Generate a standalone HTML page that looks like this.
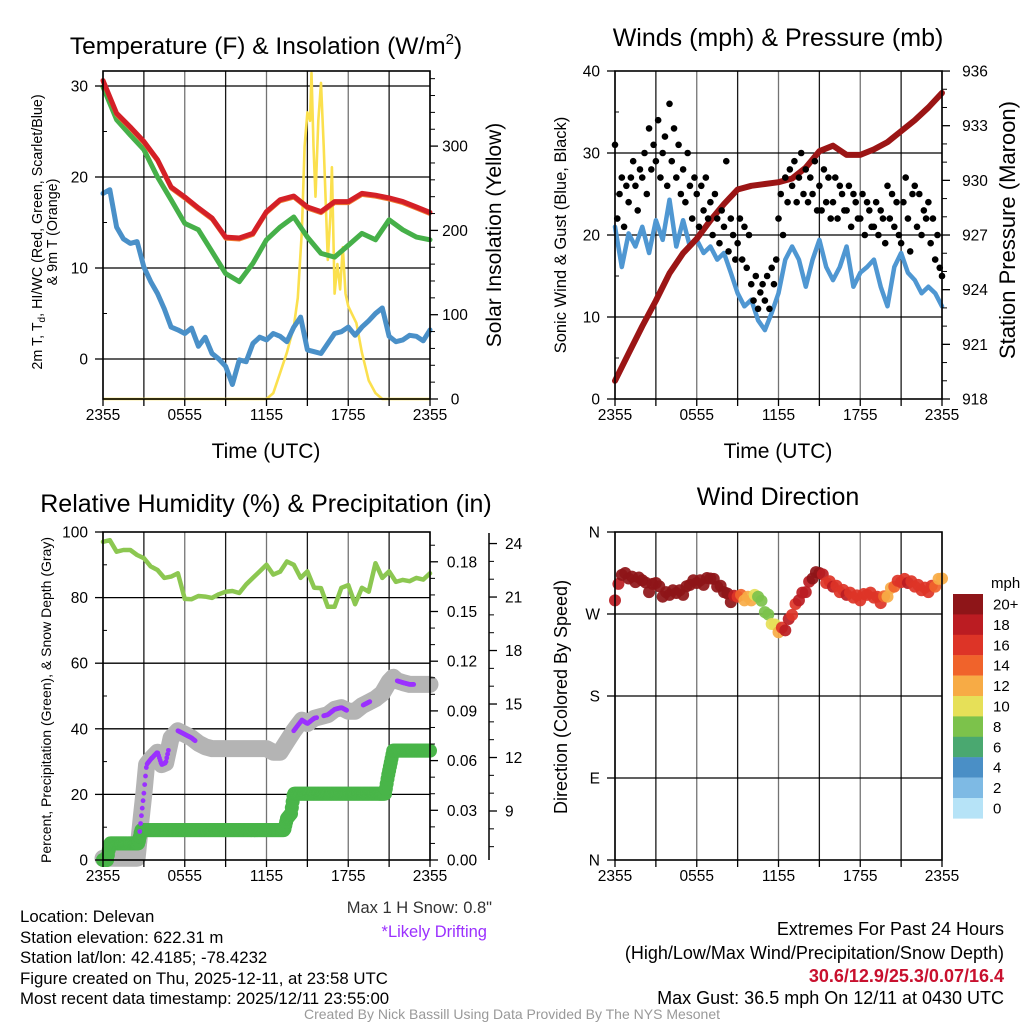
<!DOCTYPE html>
<html><head><meta charset="utf-8"><style>
html,body{margin:0;padding:0;background:#fff;}
svg{display:block;font-family:"Liberation Sans",Arial,sans-serif;}
</style></head><body>
<svg id="s" width="1024" height="1024" viewBox="0 0 1024 1024" xmlns="http://www.w3.org/2000/svg">
<g id="static">
<text x="266" y="54" font-size="24.5" text-anchor="middle">Temperature (F) &amp; Insolation (W/m<tspan font-size="15" dy="-10">2</tspan><tspan dy="10">)</tspan></text>
<text x="778" y="46" font-size="25" text-anchor="middle">Winds (mph) &amp; Pressure (mb)</text>
<text x="266" y="512" font-size="25" text-anchor="middle">Relative Humidity (%) &amp; Precipitation (in)</text>
<text x="778" y="505" font-size="25" text-anchor="middle">Wind Direction</text>
<text x="266" y="458" font-size="21" text-anchor="middle">Time (UTC)</text>
<text x="778" y="458" font-size="21" text-anchor="middle">Time (UTC)</text>
<text transform="translate(42,232) rotate(-90)" font-size="14.3" text-anchor="middle">2m T, T<tspan font-size="10" dy="3">d</tspan><tspan dy="-3">, HI/WC (Red, Green, Scarlet/Blue)</tspan></text>
<text transform="translate(57,232) rotate(-90)" font-size="14.3" text-anchor="middle">&amp; 9m T (Orange)</text>
<text transform="translate(501,235) rotate(-90)" font-size="21" text-anchor="middle">Solar Insolation (Yellow)</text>
<text transform="translate(566,235) rotate(-90)" font-size="16.5" text-anchor="middle">Sonic Wind &amp; Gust (Blue, Black)</text>
<text transform="translate(1015,230) rotate(-90)" font-size="22" text-anchor="middle">Station Pressure (Maroon)</text>
<text transform="translate(51,700) rotate(-90)" font-size="14" text-anchor="middle">Percent, Precipitation (Green), &amp; Snow Depth (Gray)</text>
<text transform="translate(567,697) rotate(-90)" font-size="18" text-anchor="middle">Direction (Colored By Speed)</text>
<text x="492" y="913" font-size="16.5" fill="#333" text-anchor="end">Max 1 H Snow: 0.8"</text>
<text x="487" y="937" font-size="16.5" fill="#9b30ff" text-anchor="end">*Likely Drifting</text>
<g font-size="16.8">
<text x="20" y="922">Location: Delevan</text>
<text x="20" y="943">Station elevation: 622.31 m</text>
<text x="20" y="963">Station lat/lon: 42.4185; -78.4232</text>
<text x="20" y="984">Figure created on Thu, 2025-12-11, at 23:58 UTC</text>
<text x="20" y="1004">Most recent data timestamp: 2025/12/11 23:55:00</text>
</g>
<g font-size="18" text-anchor="end">
<text x="1004" y="935">Extremes For Past 24 Hours</text>
<text x="1004" y="959">(High/Low/Max Wind/Precipitation/Snow Depth)</text>
<text x="1004" y="982" fill="#c8102e" font-weight="bold">30.6/12.9/25.3/0.07/16.4</text>
<text x="1004" y="1004">Max Gust: 36.5 mph On 12/11 at 0430 UTC</text>
</g>
<text x="512" y="1019" font-size="14" fill="#999" text-anchor="middle">Created By Nick Bassill Using Data Provided By The NYS Mesonet</text>
</g>
</svg>
<script>
// ---- data ----
const xTickLabels = ["2355","0555","1155","1755","2355"];
const tempVals = [30.6,27.0,25.5,23.9,21.9,18.9,17.8,16.6,15.5,13.4,13.3,13.8,16.2,17.5,17.9,16.7,16.2,17.3,17.3,18.2,18.0,17.7,17.3,16.7,16.1];
const hiwcVals = [29.9,26.3,24.6,23.0,20.0,17.5,14.9,14.2,11.8,9.4,8.5,10.5,13.1,14.5,15.6,13.4,11.6,11.2,12.5,13.8,13.1,15.3,14.2,13.4,13.1];
const dewVals = [18.2,18.6,14.5,13.2,12.7,12.9,10.1,8.5,7.2,5.5,3.5,3.2,2.8,3.4,1.4,2.4,0.6,0.0,-0.8,-2.8,-0.1,-0.3,1.7,2.4,2.1,2.8,2.5,1.9,3.5,4.6,1.0,0.8,0.6,1.7,2.8,3.0,3.5,2.6,3.5,4.2,5.0,5.6,2.5,1.9,2.1,2.6,2.5,2.0,3.2];
const solarHours = [0,12,12.5,13,13.5,14,14.3,14.6,14.8,15,15.2,15.3,15.45,15.6,15.8,16,16.2,16.5,16.7,16.8,17,17.2,17.4,17.6,17.8,18,18.3,18.6,19,19.5,20,20.5,24];
const solarVals = [0,0,7,31,55,86,120,200,300,340,330,387,300,240,330,375,300,165,220,275,125,160,130,180,125,110,100,90,55,22,7,0,0];
const tempTicks = [0,10,20,30];
const solarTicks = [0,100,200,300];

const windVals = [21.0,16.1,20.2,18.6,21.0,17.8,21.8,19.4,24.3,18.6,21.8,18.6,19.4,17.8,18.6,17.0,17.8,15.4,12.9,11.3,12.1,9.6,8.4,10.5,12.9,17.0,18.6,17.0,13.7,17.0,19.4,16.1,14.5,16.1,18.6,13.7,15.4,16.1,17.0,13.7,11.3,16.1,17.8,15.4,14.5,12.9,13.7,12.9,11.3];
const gustVals = [31,22,25,27,21,26, 24,27,29,26,23,28, 27,30,25,33,28,31, 29,34,27,30,32,26, 36,29,33,27,31,25, 28,24,30,26,22,27, 25,21,26,23,27,22, 24,20,25,22,19,23, 21,29,18,22,20,17, 19,22,17,21,16,20, 14,12,15,11,13,14, 12,15,11,16,14,17, 22,25,20,27,24,28, 26,29,24,27,30,25, 28,24,27,25,29,23, 26,23,28,24,27,22, 24,27,22,26,25,23, 23,26,21,25,24,22, 22,25,20,24,23,21, 21,24,20,23,22,19, 26,22,25,21,24,20, 19,24,27,22,18,25, 26,21,25,20,23,22, 24,19,22,17,20,16, 15];
const pressVals = [919.0,920.5,922.0,923.4,924.9,926.0,926.8,927.8,928.7,929.5,929.7,929.8,929.9,930.1,930.7,931.6,931.9,931.4,931.4,931.7,932.1,932.7,933.3,934.0,934.8];
const windTicks = [0,10,20,30,40];
const pressTicks = [918,921,924,927,930,933,936];

const rhVals = [97,97.5,94,94.5,94.5,93,92,89.5,88.4,86,86.4,87.4,79.6,79.5,80.5,80.3,79.9,81,81.8,82,81.4,84,86,88,90,87,87.9,91,90,86,88,83,82.9,77.2,77.2,83,83.8,78,83,81.8,90.5,86,88,84.8,85.4,85,86,85.5,87.4];
const snowHours = [0,0.5,1,1.5,2,2.5,2.8,3.0,3.2,3.5,4,4.3,4.6,5,5.5,6,6.5,7,7.5,8,9,10,11,12,12.5,13,13.5,14,14.3,14.6,15,15.5,16,16.5,17,17.5,18,18.5,19,19.5,20,20.5,21,21.3,21.6,22,22.5,23,24];
const snowVals = [6.35,6.35,6.35,6.35,6.35,6.35,8.6,10,11.6,11.9,12.3,11.6,11.7,13.1,13.5,13.3,13.1,12.8,12.6,12.5,12.5,12.5,12.5,12.5,12.3,12.3,12.9,13.5,13.8,14.1,13.9,14.2,14.3,14.4,14.7,14.8,14.6,14.6,14.9,15.1,15.3,15.6,16.25,16.5,16.3,16.2,16.1,16.1,16.1];
const driftStart = [2.7,5.5,14.0,16.2,19.1,21.6];
const driftEnd = [4.8,6.8,15.7,17.9,19.6,22.8];
const precipHours = [0,0.3,0.5,2.6,2.8,13.3,13.5,13.8,14.0,20.7,20.9,21.1,21.3,24];
const precipVals = [0,0,0.01,0.01,0.018,0.018,0.025,0.028,0.040,0.040,0.05,0.058,0.066,0.066];
const rhTicks = [0,20,40,60,80,100];
const precipTicks = ["0.00","0.03","0.06","0.09","0.12","0.15","0.18"];
const snowTicks = [9,12,15,18,21,24];

const dirVals = [285,313,309,305,307,294,304,289,291,293,291,302,304,302,309,300,294,283,289,285,285,289,272,259,250,252,269,285,294,309,315,304,300,294,291,288,285,291,288,282,289,300,305,304,300,296,294,300,309];
const dirSpeeds = [19,20,21,21,21,20,21,20,22,21,21,21,21,20,21,21,21,20,17,13,12,9,8,10,13,19,17,18,18,20,21,17,18,17,18,17,17,16,17,16,12,15,17,18,16,16,17,15,12];
const dirTickLabels = ["N","E","S","W","N"];
const cbLabels = ["20+","18","16","14","12","10","8","6","4","2","0"];
const cbColors = ["#8e1518","#bb1c22","#dd3427","#f0632b","#f7ab45","#e6e058","#7cc24b","#4aa870","#4a8fc6","#7ebae4","#b6e3f7"];

// ---- helpers ----
const NS="http://www.w3.org/2000/svg";
const svg=document.getElementById('s');
function el(tag,attrs,parent){const e=document.createElementNS(NS,tag);for(const k in attrs)e.setAttribute(k,attrs[k]);(parent||svg).appendChild(e);return e;}
function grp(name){const g=el('g',{});


return g;}
function speedColor(s){const i=s>=20?0:Math.max(0,Math.min(10,10-Math.floor(s/2)));return cbColors[i];}

function makeX(x0,x1){return h=>x0+h*(x1-x0)/24;}
function pathFrom(xs,ys){return xs.map((x,i)=>(i?'L':'M')+x.toFixed(1)+' '+ys[i].toFixed(1)).join('');}
function interp(hs,vs,h){for(let i=1;i<hs.length;i++){if(h<=hs[i]){const t=(h-hs[i-1])/(hs[i]-hs[i-1]);return vs[i-1]+t*(vs[i]-vs[i-1]);}}return vs[vs.length-1];}

function frame(name,x0,x1,y0,y1,hGrid){
  const gg=grp(name);
  for(let k=0;k<=8;k++){const x=x0+k*(x1-x0)/8;
    const l=el('line',{x1:x,x2:x,y1:y0,y2:y1,stroke:'#000','stroke-width':1.3,'stroke-opacity':(k%2?0.9:0.55)},gg);
    
    }
  hGrid.forEach(y=>{const l=el('line',{x1:x0,x2:x1,y1:y,y2:y,stroke:'#000','stroke-width':1.3},gg);
    
    });
  return gg;
}
function box(x0,x1,y0,y1){const r=el('rect',{x:x0,y:y0,width:x1-x0,height:y1-y0,fill:'none',stroke:'#000','stroke-width':1.6});

}
function xAxis(x,y1){
  const g=grp('x-axis');
  for(let k=0;k<=8;k++){const xx=x(k*3);el('line',{x1:xx,x2:xx,y1:y1,y2:y1+7,stroke:'#000','stroke-width':1.3},g);}
  xTickLabels.forEach((t,i)=>{const tx=el('text',{x:x(i*6),y:y1+21,'font-size':15.5,'text-anchor':'middle'},g);tx.textContent=t;
    
    });
}
function leftTicks(x0,ticks,yf,labels,minor){
  const g=grp('left-y-axis');
  ticks.forEach((v,i)=>{const y=yf(v);el('line',{x1:x0-8,x2:x0,y1:y,y2:y,stroke:'#000','stroke-width':1.3},g);
    const t=el('text',{x:x0-15,y:y+5.5,'font-size':15.5,'text-anchor':'end'},g);t.textContent=labels?labels[i]:v;
    
    });
  (minor||[]).forEach(v=>{const y=yf(v);el('line',{x1:x0,x2:x0+4,y1:y,y2:y,stroke:'#000','stroke-width':1},g);});
}
function rightTicks(x1,ticks,yf,labels,minor,lx){
  const g=grp('right-y-axis');
  ticks.forEach((v,i)=>{const y=yf(v);el('line',{x1:x1,x2:x1+8,y1:y,y2:y,stroke:'#000','stroke-width':1.3},g);
    const t=el('text',{x:lx,y:y+5.5,'font-size':15.5,'text-anchor':'middle'},g);t.textContent=labels?labels[i]:v;
    
    });
  (minor||[]).forEach(v=>{const y=yf(v);el('line',{x1:x1,x2:x1+5,y1:y,y2:y,stroke:'#000','stroke-width':1},g);});
}

// ================= Panel 1: Temperature =================
(function(){
  const x0=103,x1=430,y0=71,y1=399;
  const x=makeX(x0,x1);
  const yT=v=>359-v*9.1, yS=v=>399-v*0.843;
  frame('temp-grid',x0,x1,y0,y1,tempTicks.map(yT));
  const g=grp('temp-series');
  const sp=el('path',{d:pathFrom(solarHours.map(x),solarVals.map(yS)),fill:'none',stroke:'#fbe04e','stroke-width':2.6,'stroke-linejoin':'round'},g);
  
  
  const dh=dewVals.map((v,i)=>x(i*0.5));
  const dp=el('path',{d:pathFrom(dh,dewVals.map(yT)),fill:'none',stroke:'#4a90c8','stroke-width':5,'stroke-linejoin':'round','stroke-linecap':'round'},g);
  
  
  const hh=hiwcVals.map((v,i)=>x(i));
  const hp=el('path',{d:pathFrom(hh,hiwcVals.map(yT)),fill:'none',stroke:'#46b049','stroke-width':5,'stroke-linejoin':'round','stroke-linecap':'round'},g);
  
  
  const th=tempVals.map((v,i)=>x(i));
  const op=el('path',{d:pathFrom(th,tempVals.map(v=>yT(v)+1.5)),fill:'none',stroke:'#f07a30','stroke-width':4,'stroke-linejoin':'round'},g);
  
  
  const tp=el('path',{d:pathFrom(th,tempVals.map(yT)),fill:'none',stroke:'#d42027','stroke-width':5,'stroke-linejoin':'round','stroke-linecap':'round'},g);
  
  
  box(x0,x1,y0,y1);
  xAxis(x,y1);
  leftTicks(x0,tempTicks,yT,null,[5,15,25]);
  rightTicks(x1,solarTicks,yS,null,[20,40,60,80,120,140,160,180,220,240,260,280,320,340,360,380],455);
})();

// ================= Panel 2: Wind & Pressure =================
(function(){
  const x0=615,x1=942,y0=71,y1=399;
  const x=makeX(x0,x1);
  const yW=v=>399-v*8.2, yP=p=>399-(p-918)*18.22;
  frame('wind-grid',x0,x1,y0,y1,[10,20,30].map(yW));
  const g=grp('wind-series');
  const wp=el('path',{d:pathFrom(windVals.map((v,i)=>x(i*0.5)),windVals.map(yW)),fill:'none',stroke:'#4f97d2','stroke-width':4.5,'stroke-linejoin':'round','stroke-linecap':'round'},g);
  
  
  const pp=el('path',{d:pathFrom(pressVals.map((v,i)=>x(i)),pressVals.map(yP)),fill:'none',stroke:'#9b1515','stroke-width':6,'stroke-linejoin':'round','stroke-linecap':'round'},g);
  
  
  gustVals.forEach((v,i)=>{const c=el('circle',{cx:x(i/6),cy:yW(v),r:3.3,fill:'#000'},g);
    
    });
  box(x0,x1,y0,y1);
  xAxis(x,y1);
  leftTicks(x0,windTicks,yW,null,[5,15,25,35]);
  rightTicks(x1,pressTicks,yP,null,[919,920,922,923,925,926,928,929,931,932,934,935],975);
})();

// ================= Panel 3: RH / Precip / Snow =================
(function(){
  const x0=103,x1=430,y0=532,y1=860;
  const x=makeX(x0,x1);
  const yR=v=>860-v*3.28, yPr=v=>860-v*1656.7, ySn=v=>811-(v-9)*17.83;
  frame('rh-grid',x0,x1,y0,y1,[20,40,60,80].map(yR));
  const g=grp('rh-series');
  const rp=el('path',{d:pathFrom(rhVals.map((v,i)=>x(i*0.5)),rhVals.map(yR)),fill:'none',stroke:'#8cc751','stroke-width':4.5,'stroke-linejoin':'round','stroke-linecap':'round'},g);
  
  
  const sp=el('path',{d:pathFrom(snowHours.map(x),snowVals.map(ySn)),fill:'none',stroke:'#b4b4b4','stroke-width':17,'stroke-linejoin':'round','stroke-linecap':'round'},g);
  
  
  for(let h=0;h<=24.001;h+=0.06){const v=interp(precipHours,precipVals,h);
    const c=el('circle',{cx:x(h),cy:yPr(v),r:7,fill:'#49b549'},g);
    
    }
  driftStart.forEach((s,k)=>{for(let h=s;h<=driftEnd[k];h+=0.06){const v=interp(snowHours,snowVals,h);
    const c=el('circle',{cx:x(h),cy:ySn(v),r:2.4,fill:'#9b30ff'},g);
    
    }});
  box(x0,x1,y0,y1);
  xAxis(x,y1);
  leftTicks(x0,rhTicks,yR,null,[10,30,50,70,90]);
  rightTicks(x1,precipTicks.map(Number),yPr,precipTicks,[0.01,0.02,0.04,0.05,0.07,0.08,0.10,0.11,0.13,0.14,0.16,0.17,0.19],462);
  const sg=grp('snow-axis');
  el('line',{x1:489,x2:489,y1:533,y2:860,stroke:'#000','stroke-width':1.5},sg);
  snowTicks.forEach(v=>{const y=ySn(v);el('line',{x1:489,x2:497,y1:y,y2:y,stroke:'#000','stroke-width':1.3},sg);
    const t=el('text',{x:505,y:y+5.5,'font-size':15.5},sg);t.textContent=v;
    
    });
  [7,8,10,11,13,14,16,17,19,20,22,23].forEach(v=>{const y=ySn(v);el('line',{x1:489,x2:494,y1:y,y2:y,stroke:'#000','stroke-width':1},sg);});
})();

// ================= Panel 4: Direction =================
(function(){
  const x0=615,x1=942,y0=532,y1=860;
  const x=makeX(x0,x1);
  const yD=d=>860-d*328/360;
  frame('direction-grid',x0,x1,y0,y1,[90,180,270].map(yD));
  const g=grp('direction-series');
  dirVals.forEach((d,i)=>{const c=el('circle',{cx:x(i*0.5),cy:yD(d),r:6,fill:speedColor(dirSpeeds[i]),'fill-opacity':0.92},g);
    
    
    if(i<dirVals.length-1){const c2=el('circle',{cx:x(i*0.5+0.25),cy:yD((d+dirVals[i+1])/2+4),r:6,fill:speedColor((dirSpeeds[i]+dirSpeeds[i+1])/2),'fill-opacity':0.92},g);
    
    }});
  box(x0,x1,y0,y1);
  xAxis(x,y1);
  leftTicks(x0,[0,90,180,270,360],yD,dirTickLabels,[]);
  const cb=grp('speed-colorbar');
  const t=el('text',{x:991,y:588,'font-size':15},cb);t.textContent='mph';
  
  
  cbColors.forEach((c,i)=>{const r=el('rect',{x:953,y:594+i*20.4,width:30,height:20.6,fill:c},cb);
    
    
    const l=el('text',{x:993,y:594+i*20.4+15.5,'font-size':15},cb);l.textContent=cbLabels[i];
    
    });
})();
</script>
</body></html>
